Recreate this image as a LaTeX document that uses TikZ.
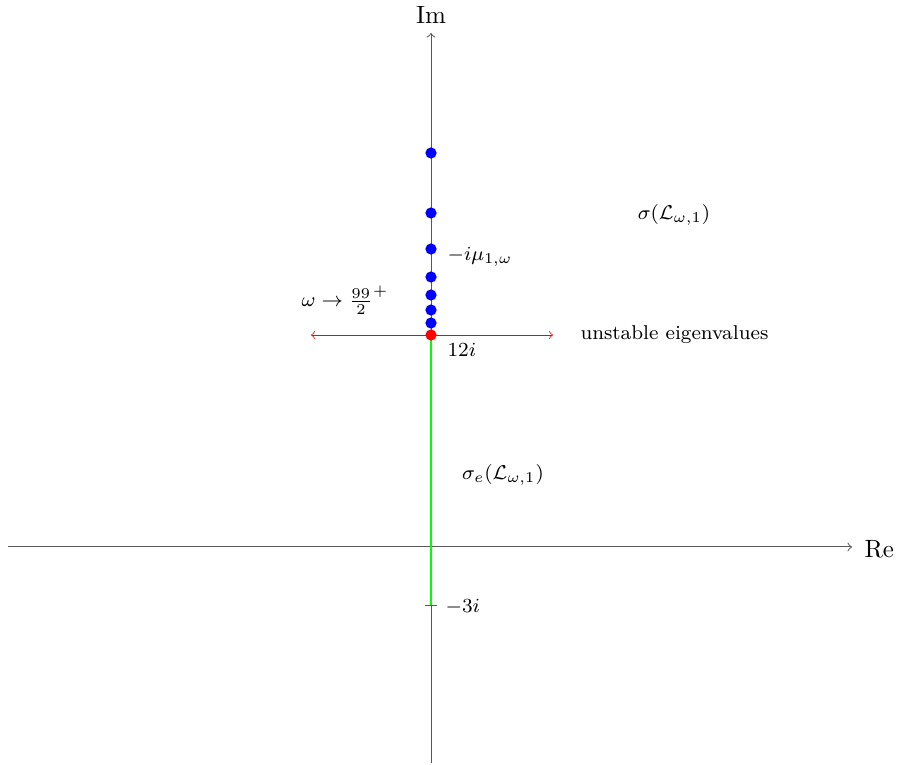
\documentclass[tikz,border=0pt]{standalone}
\usepackage{amsmath}
\usepackage{amssymb}
\begin{document}
\begin{tikzpicture}[x=0.4pt,y=-0.4pt]
	\tikzstyle{every node}+=[inner sep=0pt]
	\tikzstyle{axis}=[black!65,->,line width=0.4pt]
	\tikzstyle{eig}=[circle,fill=blue,minimum size=4.5pt]
	\tikzstyle{lbl}=[font=\footnotesize]
	\useasboundingbox (0,0) rectangle (901,765);
	% axes
	\coordinate (o) at (431,547);
	\coordinate (xl) at (8,547);
	\coordinate (xr) at (852,547);
	\coordinate (yb) at (431,763);
	\coordinate (yt) at (431,33);
	\draw[axis] (xl) -- (xr);
	\draw[axis] (yb) -- (yt);
	\node[anchor=west] (re) at (864,549) {Re};
	\node (im) at (431,15) {Im};
	% essential spectrum
	\coordinate (m3) at (431,606);
	\draw[green,line width=0.9pt] (431,335) -- (m3);
	\draw[black!65] ([xshift=-2.4pt]m3) -- ([xshift=2.4pt]m3);
	\node[lbl,anchor=west] (lm3) at (445,607) {$-3i$};
	% unstable eigenvalues
	\coordinate (ul) at (311,335);
	\coordinate (ur) at (553,335);
	\draw[red,<->,line width=0.3pt] (ul) -- (ur);
	\node[lbl,anchor=west] (lun) at (580,335) {unstable eigenvalues};
	% eigenvalues
	\node[eig] (e1) at (431,153) {};
	\node[eig] (e2) at (431,213) {};
	\node[eig] (e3) at (431,249) {};
	\node[eig] (e4) at (431,277) {};
	\node[eig] (e5) at (431,295) {};
	\node[eig] (e6) at (431,310) {};
	\node[eig] (e7) at (431,323) {};
	\node[eig,fill=red] (e0) at (431,335) {};
	\node[lbl,anchor=west] (lmu) at (447,257) {$-i\mu_{1,\omega}$};
	\node[lbl,anchor=north west] (l12) at (447,343) {$12i$};
	\node[lbl] (lom) at (345,300) {$\omega\to\frac{99}{2}^+$};
	\node[lbl] (lsig) at (674,215) {$\sigma(\mathcal{L}_{\omega,1})$};
	\node[lbl] (lsige) at (503,475) {$\sigma_e(\mathcal{L}_{\omega,1})$};
\end{tikzpicture}
\end{document}
